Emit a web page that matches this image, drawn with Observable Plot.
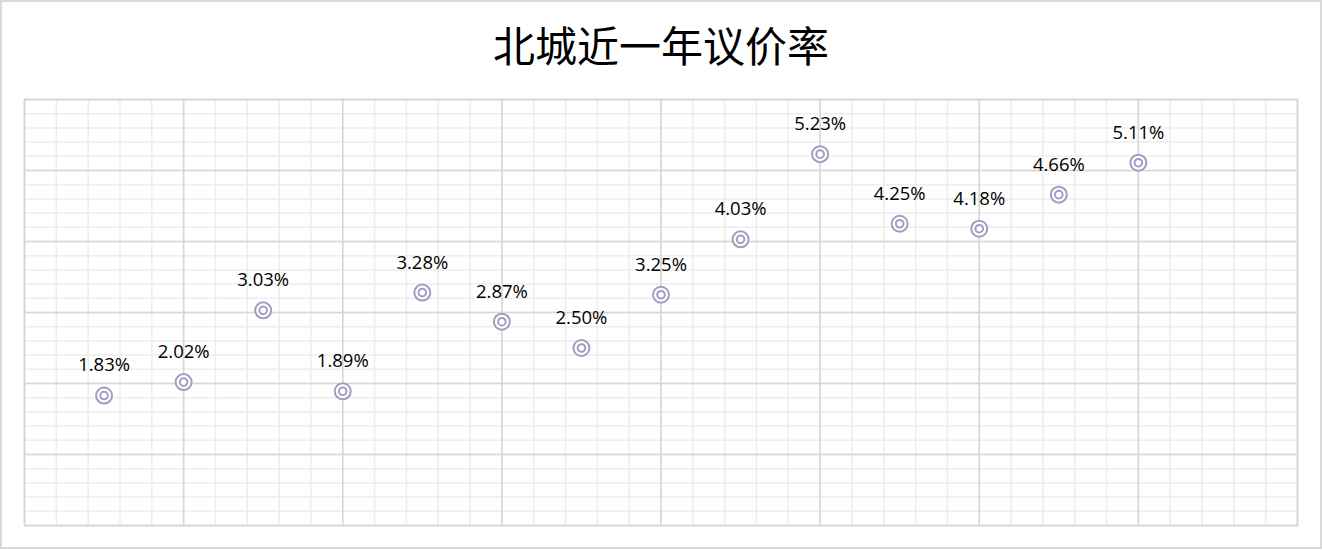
<!DOCTYPE html>
<html>
<head>
<meta charset="utf-8">
<script src="https://cdn.jsdelivr.net/npm/d3@7"></script>
<script src="https://cdn.jsdelivr.net/npm/@observablehq/plot@0.6"></script>
<style>
  body { margin: 0; background: #fff; }
  #wrap { position: relative; width: 1322px; height: 550px; overflow: hidden; background: #fff; }
  #border { position: absolute; left: 0; top: 0; width: 1322px; height: 549px; box-sizing: border-box; border: 2px solid #d9d9d9; pointer-events: none; }
  #title { position: absolute; left: 0; top: 0; width: 1322px; height: 90px; line-height: 88px; text-align: center; font-family: "Noto Sans CJK SC", sans-serif; font-size: 42px; color: #000; }
  #chart { position: absolute; left: 0; top: 90px; }
</style>
</head>
<body>
<div id="wrap">
  <div id="title">北城近一年议价率</div>
  <div id="chart"></div>
  <div id="border"></div>
</div>
<script>
const titleText = "北城近一年议价率";
const positions = [1, 2, 3, 4, 5, 6, 7, 8, 9, 10, 11, 12, 13, 14];
const rates = [1.83, 2.02, 3.03, 1.89, 3.28, 2.87, 2.50, 3.25, 4.03, 5.23, 4.25, 4.18, 4.66, 5.11];
const xMajorTicks = [0, 2, 4, 6, 8, 10, 12, 14, 16];
const yMajorTicks = [0, 1, 2, 3, 4, 5, 6];
const xMinorTicks = d3.range(0, 41).map(i => i * 0.4);
const yMinorTicks = d3.range(0, 31).map(i => i * 0.2);

const data = positions.map((p, i) => ({x: p, y: rates[i], label: rates[i].toFixed(2) + "%"}));

const markColor = "#9f9dc2";

const chart = Plot.plot({
  width: 1322,
  height: 460,
  marginLeft: 24,
  marginRight: 25,
  marginTop: 9,
  marginBottom: 25,
  x: {domain: [0, 16], axis: null},
  y: {domain: [0, 6], axis: null},
  style: {fontFamily: "'Open Sans', 'Noto Sans', sans-serif", background: "white"},
  marks: [
    Plot.gridX(xMinorTicks, {stroke: "#ededed", strokeOpacity: 1, strokeWidth: 1.5}),
    Plot.gridY(yMinorTicks, {stroke: "#ededed", strokeOpacity: 1, strokeWidth: 1.5}),
    Plot.gridX(xMajorTicks, {stroke: "#d6d6d6", strokeOpacity: 1, strokeWidth: 1.5}),
    Plot.gridY(yMajorTicks, {stroke: "#d6d6d6", strokeOpacity: 1, strokeWidth: 1.5}),
    Plot.frame({stroke: "#d6d6d6", strokeWidth: 1.5}),
    Plot.dot(data, {x: "x", y: "y", r: 8, stroke: markColor, strokeWidth: 2, fill: "white"}),
    Plot.dot(data, {x: "x", y: "y", r: 3.8, stroke: markColor, strokeWidth: 2, fill: "none"}),
    Plot.text(data, {x: "x", y: "y", text: "label", dy: -30, fontSize: 18.5, fill: "#000"})
  ]
});
document.getElementById("chart").appendChild(chart);
</script>
</body>
</html>
